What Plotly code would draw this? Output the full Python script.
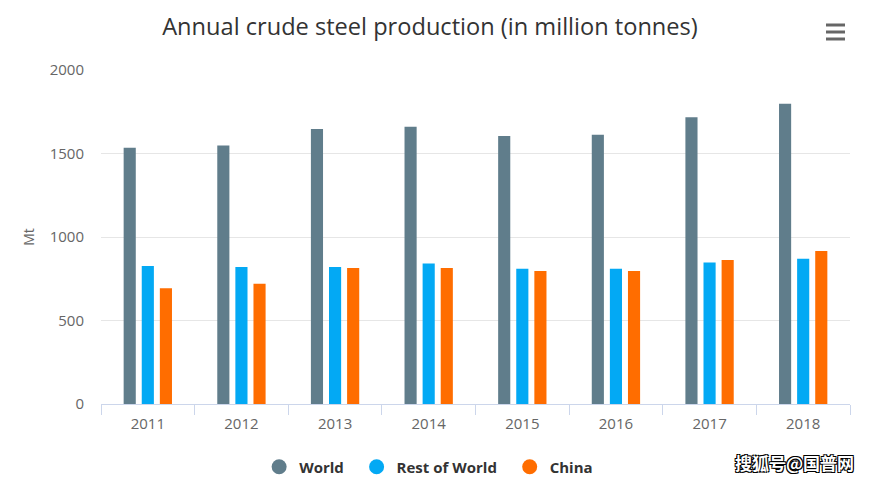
import plotly.graph_objects as go

years = ["2011", "2012", "2013", "2014", "2015", "2016", "2017", "2018"]
world = [1535, 1548, 1647, 1660, 1605, 1613, 1717, 1798]
rest_of_world = [826, 820, 820, 842, 810, 810, 848, 870]
china = [693, 720, 814, 814, 796, 796, 862, 916]

series_names = ["World", "Rest of World", "China"]
series_values = [world, rest_of_world, china]
colors = ["#607d8b", "#03a9f4", "#ff6d00"]

fig = go.Figure()
for name, vals, col in zip(series_names, series_values, colors):
    fig.add_trace(go.Bar(x=years, y=vals, name=name, marker=dict(color=col, line=dict(width=0)),
                         showlegend=False, legendgroup=name))
# legend entries with circular symbols
for name, col in zip(series_names, colors):
    fig.add_trace(go.Scatter(x=[None], y=[None], mode="markers", name=name + "\u00a0\u00a0",
                             legendgroup=name,
                             marker=dict(color=col, size=15, symbol="circle")))

fig.update_layout(
    width=874, height=481,
    margin=dict(l=101, r=24, t=70, b=77),
    paper_bgcolor="white", plot_bgcolor="white",
    font=dict(family="Open Sans, sans-serif", color="#666666"),
    title=dict(text="Annual crude steel production (in million tonnes)",
               x=0.492, xanchor="center", y=1 - 27 / 481, yanchor="middle", xref="container",
               yref="container", font=dict(size=23.6, color="#333333")),
    barmode="group", bargap=0.42, bargroupgap=0.33,
    legend=dict(orientation="h", xref="container", yref="container",
                x=0.495, xanchor="center", y=1 - 467 / 481, yanchor="middle",
                font=dict(size=15, color="#333333", weight="bold"), itemclick=False),
    showlegend=True,
)
fig.update_xaxes(showgrid=False, showline=True, linecolor="#ccd6eb", linewidth=1,
                 ticks="outside", tickson="boundaries", ticklen=10, tickcolor="#ccd6eb",
                 ticklabelstandoff=6,
                 tickfont=dict(size=15, color="#666666"))
fig.update_yaxes(range=[0, 2000], tickvals=[0, 500, 1000, 1500, 2000], showgrid=True,
                 gridcolor="#e6e6e6", gridwidth=1, zeroline=False, showline=False,
                 ticks="", ticklabelstandoff=16,
                 tickfont=dict(size=15, color="#666666"),
                 title=dict(text="Mt", font=dict(size=14, color="#666666"), standoff=11))

# menu icon
for yy in [0.0, 7.0, 14.0]:
    fig.add_shape(type="line", xref="paper", yref="paper",
                  x0=(826 - 101) / 749, x1=(845 - 101) / 749,
                  y0=(404 - 25 - yy) / 334, y1=(404 - 25 - yy) / 334,
                  line=dict(color="#666666", width=3))

# watermark
fig.add_annotation(text="<b>搜狐号@国普网</b>", xref="paper", yref="paper",
                   x=(794 - 101) / 749, y=-(462 - 404) / 334, xanchor="center", yanchor="middle",
                   showarrow=False,
                   font=dict(family="Noto Sans CJK SC", size=17, color="white",
                             shadow="1px 1px 0 #000, -1px -1px 0 #000, 1px -1px 0 #000, -1px 1px 0 #000"))

fig.write_html("out.html")
